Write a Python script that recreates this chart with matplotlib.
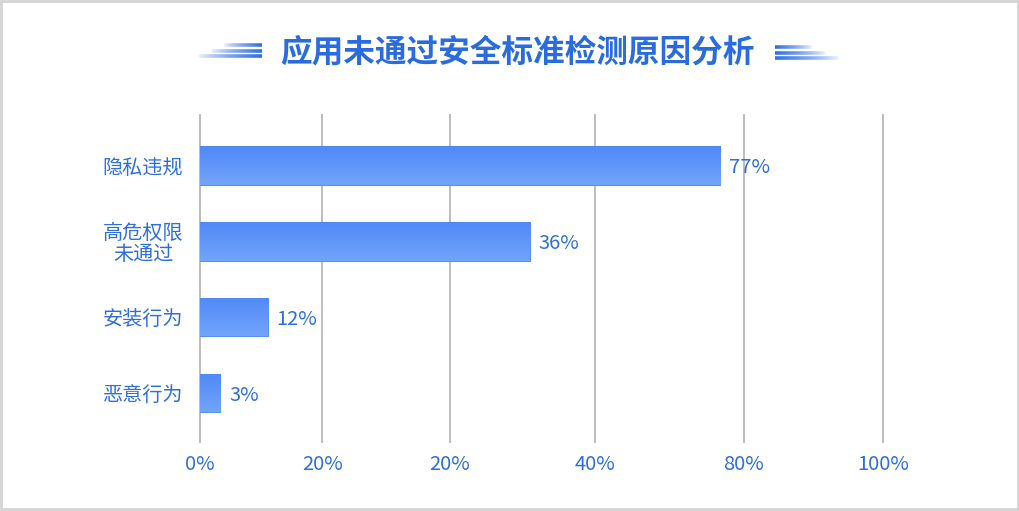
import numpy as np
import matplotlib
matplotlib.use("Agg")
import matplotlib.pyplot as plt
from matplotlib.collections import LineCollection
from matplotlib.colors import LinearSegmentedColormap
from matplotlib.patches import Rectangle

plt.rcParams['font.family'] = ['Noto Sans CJK SC', 'DejaVu Sans']

# ---- data ----
title = "应用未通过安全标准检测原因分析"
categories = ["隐私违规", "高危权限\n未通过", "安装行为", "恶意行为"]
bar_lengths = [76.2, 48.3, 9.9, 3.0]          # bar extent as drawn (axis units)
value_labels = ["77%", "36%", "12%", "3%"]
tick_positions = [0, 17.9, 36.6, 57.8, 79.6, 100]
tick_labels = ["0%", "20%", "20%", "40%", "80%", "100%"]

W, H = 1020, 511
fig = plt.figure(figsize=(W / 100, H / 100), dpi=100)
fig.patch.set_facecolor("white")

text_blue = "#2f6fdc"
fs = 14.5
ax = fig.add_axes([200 / W, (H - 443) / H, 683 / W, 329 / H])
ax.set_facecolor("none")
for s in ax.spines.values():
    s.set_visible(False)

ypos = np.arange(len(categories))
bar_h = 0.51
cmap = LinearSegmentedColormap.from_list("bg", ["#5089f7", "#72a4fb"])
grad = np.linspace(0, 1, 64).reshape(-1, 1)

bars = ax.barh(ypos, bar_lengths, height=bar_h, color="#5d93f8",
               edgecolor="#5a8ff5", linewidth=0.8, zorder=2)
for rect in bars:
    x0, y0 = rect.get_x(), rect.get_y()
    w, h = rect.get_width(), rect.get_height()
    im = ax.imshow(grad, extent=[x0, x0 + w, y0 + h, y0], aspect="auto",
                   cmap=cmap, zorder=2.5, origin="upper")
    im.set_clip_path(rect)

# gridlines
ax.vlines(tick_positions, -0.68, 3.66, colors="#bdbdbd", linewidth=1.4,
          zorder=1, clip_on=False)

ax.set_xlim(0, 100)
ax.set_ylim(3.66, -0.68)
ax.set_aspect("auto")

ax.set_xticks(tick_positions)
ax.set_xticklabels(tick_labels, fontsize=fs, color=text_blue)
ax.set_yticks(ypos)
ax.set_yticklabels(categories, fontsize=fs, color=text_blue, linespacing=1.0)
for lab in ax.get_yticklabels():
    lab.set_multialignment("center")
ax.tick_params(axis="both", length=0)
ax.tick_params(axis="x", pad=8)
ax.tick_params(axis="y", pad=12)

for y, w, lab in zip(ypos, bar_lengths, value_labels):
    ax.annotate(lab, xy=(w, y), xytext=(6.5, -1.5), textcoords="offset points",
                va="center", ha="left", fontsize=fs, color=text_blue, zorder=5)

# title
fig.text(517.5 / W, 1 - 52 / H, title, ha="center", va="center",
         fontsize=22.8, fontweight="bold", color="#2a6ce0")

# overlay for decorations and frame
ov = fig.add_axes([0, 0, 1, 1], zorder=-1)
ov.set_xlim(0, W)
ov.set_ylim(H, 0)
ov.axis("off")


def fade_line(xa, xb, y, solid_at_b=True, lw=2.6):
    n = 60
    xs = np.linspace(xa, xb, n + 1)
    segs = [[(xs[i], y), (xs[i + 1], y)] for i in range(n)]
    alphas = np.linspace(0.0, 1.0, n)
    if not solid_at_b:
        alphas = alphas[::-1]
    base = np.array(matplotlib.colors.to_rgba("#2f6fe2"))
    cols = np.tile(base, (n, 1))
    cols[:, 3] = alphas ** 0.7
    ov.add_collection(LineCollection(segs, colors=cols, linewidths=lw,
                                     capstyle="butt"))


for y, xa, xb in [(45.5, 223, 262), (51, 210, 262), (56.5, 197, 262)]:
    fade_line(xa, xb, y, solid_at_b=True)
for y, xa, xb in [(47.5, 775, 813), (53, 775, 827), (58.5, 775, 840)]:
    fade_line(xa, xb, y, solid_at_b=False)

ov.add_patch(Rectangle((1.5, 1.5), W - 3, H - 3.5, fill=False,
                       edgecolor="#d4d4d4", linewidth=2))

fig.savefig("out.png", dpi=100, facecolor="white")
